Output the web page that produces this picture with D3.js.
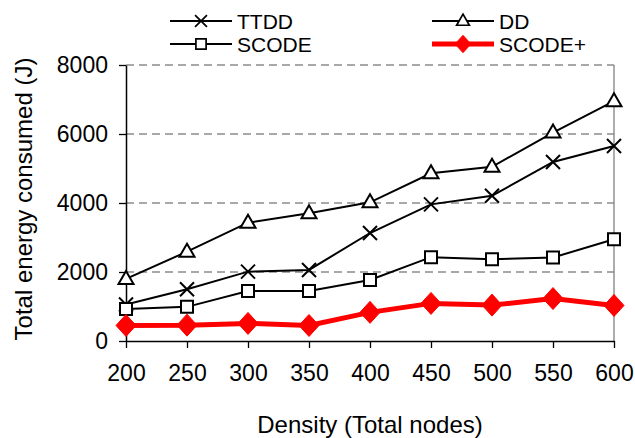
<!DOCTYPE html>
<html>
<head>
<meta charset="utf-8">
<script src="https://cdn.jsdelivr.net/npm/d3@7"></script>
<style>
  body { margin: 0; background: #fff; }
  text { font-family: "Liberation Sans", Arial, sans-serif; fill: #000; }
</style>
</head>
<body>
<div class="chart"></div>
<script>
var density = [200, 250, 300, 350, 400, 450, 500, 550, 600];
var ttdd   = [1060, 1500, 2010, 2060, 3130, 3960, 4210, 5190, 5650];
var dd     = [1800, 2590, 3430, 3700, 4020, 4860, 5050, 6040, 6950];
var scode  = [930, 990, 1450, 1450, 1770, 2430, 2370, 2420, 2950];
var scodeP = [450, 460, 510, 450, 830, 1090, 1040, 1230, 1030];
var yTicks = [0, 2000, 4000, 6000, 8000];

var margin = {top: 65, right: 21, bottom: 97, left: 126},
    width = 635 - margin.left - margin.right,
    height = 438 - margin.top - margin.bottom;

var svg = d3.select(".chart")
  .append("svg")
    .attr("width", 635)
    .attr("height", 438);

var g = svg.append("g")
    .attr("transform", "translate(" + margin.left + "," + margin.top + ")");

var x = d3.scaleLinear()
  .domain([200, 600])
  .range([0, width]);

var y = d3.scaleLinear()
  .domain([0, 8000])
  .range([height, 0]);

// grid lines
g.selectAll(".grid")
  .data(yTicks.filter(function(d) { return d > 0; }))
  .enter()
  .append("line")
    .attr("x1", 0)
    .attr("x2", width)
    .attr("y1", function(d) { return y(d); })
    .attr("y2", function(d) { return y(d); })
    .attr("stroke", "#8c8c8c")
    .attr("stroke-width", 1.3)
    .attr("stroke-dasharray", "8,5");

// right border
g.append("line")
  .attr("x1", width).attr("x2", width)
  .attr("y1", 0).attr("y2", height)
  .attr("stroke", "#808080")
  .attr("stroke-width", 1.3);

// X axis
var xAxis = g.append("g")
  .attr("transform", "translate(0," + height + ")")
  .call(d3.axisBottom(x).tickValues(density).tickFormat(d3.format("d"))
    .tickSize(7).tickPadding(17).tickSizeOuter(0));
xAxis.select(".domain").attr("stroke", "#000").attr("stroke-width", 1.5);
xAxis.selectAll("line").attr("stroke", "#000").attr("stroke-width", 1.3);
xAxis.selectAll("text")
  .style("font-size", "23px")
  .style("font-family", "Liberation Sans, Arial, sans-serif");

// Y axis
var yAxis = g.append("g")
  .call(d3.axisLeft(y).tickValues(yTicks).tickFormat(d3.format("d"))
    .tickSize(7).tickPadding(11).tickSizeOuter(0));
yAxis.select(".domain").attr("stroke", "#000").attr("stroke-width", 1.5);
yAxis.selectAll("line").attr("stroke", "#000").attr("stroke-width", 1.3);
yAxis.selectAll("text")
  .style("font-size", "23px")
  .style("font-family", "Liberation Sans, Arial, sans-serif");

// axis titles
svg.append("text")
  .attr("text-anchor", "middle")
  .attr("transform", "translate(32," + 199 + ") rotate(-90)")
  .style("font-size", "24px")
  .text("Total energy consumed (J)");

svg.append("text")
  .attr("text-anchor", "middle")
  .attr("x", margin.left + width / 2)
  .attr("y", 433)
  .style("font-size", "24px")
  .text("Density (Total nodes)");

// marker shapes
var symX = "M-7,-7L7,7M-7,7L7,-7";
var symTri = "M0,-8L7.5,5L-7.5,5Z";
var symSq = "M-6,-6H6V6H-6Z";
var symDia = "M0,-11L10,0L0,11L-10,0Z";

var series = [
  {name: "TTDD", values: ttdd, color: "#000", lw: 2, sym: symX, fill: "none"},
  {name: "DD", values: dd, color: "#000", lw: 2, sym: symTri, fill: "#fff"},
  {name: "SCODE", values: scode, color: "#000", lw: 2, sym: symSq, fill: "#fff"},
  {name: "SCODE+", values: scodeP, color: "#ff0000", lw: 5, sym: symDia, fill: "#ff0000"}
];

var line = d3.line()
  .x(function(d, i) { return x(density[i]); })
  .y(function(d) { return y(d); });

series.forEach(function(s) {
  g.append("path")
    .datum(s.values)
    .attr("d", line)
    .attr("fill", "none")
    .attr("stroke", s.color)
    .attr("stroke-width", s.lw);

  g.selectAll(".m" + s.name.replace("+", "p"))
    .data(s.values)
    .enter()
    .append("path")
      .attr("transform", function(d, i) { return "translate(" + x(density[i]) + "," + y(d) + ")"; })
      .attr("d", s.sym)
      .attr("fill", s.fill)
      .attr("stroke", s.color)
      .attr("stroke-width", s.name == "SCODE+" ? 1 : 2);
});

// legend
var legendPos = [
  {x: 170, y: 21}, {x: 432, y: 21},
  {x: 170, y: 44}, {x: 432, y: 44}
];

series.forEach(function(s, i) {
  var p = legendPos[i];
  var lg = svg.append("g").attr("transform", "translate(" + p.x + "," + p.y + ")");
  lg.append("line")
    .attr("x1", 0).attr("x2", 62)
    .attr("y1", 0).attr("y2", 0)
    .attr("stroke", s.color)
    .attr("stroke-width", s.lw);
  lg.append("path")
    .attr("transform", "translate(31,0) scale(" + (s.name == "SCODE+" ? 0.8 : 0.85) + ")")
    .attr("d", s.sym)
    .attr("fill", s.fill)
    .attr("stroke", s.color)
    .attr("stroke-width", s.name == "SCODE+" ? 1 : 2);
  lg.append("text")
    .attr("x", 67)
    .attr("y", 7.5)
    .style("font-size", "21px")
    .text(s.name);
});
</script>
</body>
</html>
